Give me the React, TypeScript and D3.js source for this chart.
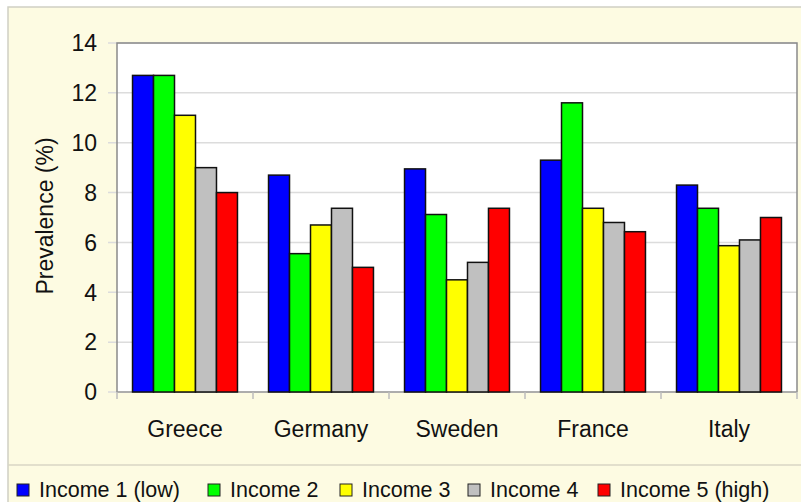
import * as d3 from 'd3';

const countries = ['Greece', 'Germany', 'Sweden', 'France', 'Italy'];
const seriesNames = ['Income 1 (low)', 'Income 2', 'Income 3', 'Income 4', 'Income 5 (high)'];
const income1 = [12.7, 8.7, 8.95, 9.3, 8.3];
const income2 = [12.7, 5.55, 7.12, 11.6, 7.37];
const income3 = [11.1, 6.7, 4.5, 7.37, 5.87];
const income4 = [9.0, 7.37, 5.2, 6.8, 6.1];
const income5 = [8.0, 5.0, 7.37, 6.43, 7.0];
const yTicks = [0, 2, 4, 6, 8, 10, 12, 14];
const colors = ['#0000ff', '#00ff00', '#ffff00', '#c0c0c0', '#ff0000'];

const FONT = "'Liberation Sans', Arial, sans-serif";
const W = 801;
const H = 502;
const plot = { left: 117, right: 797, top: 43, bottom: 392 };
// legend swatch x positions (layout only)
const legendX = [17, 208, 340, 468, 598];

export default function App() {
  const series = [income1, income2, income3, income4, income5];

  const x0 = d3.scaleBand<string>().domain(countries).range([plot.left, plot.right]);
  const x1 = d3
    .scaleBand<number>()
    .domain(d3.range(series.length))
    .range([0, x0.bandwidth()])
    .paddingOuter(0.74)
    .paddingInner(0);
  const y = d3.scaleLinear().domain([0, 14]).range([plot.bottom, plot.top]);

  return (
    <svg width={W} height={H} style={{ position: 'absolute', left: 0, top: 0 }}>
      <rect x={0} y={0} width={W} height={H} fill='#ffffff' />
      <rect x={8} y={7} width={W} height={H} fill='#fdfbe2' stroke='#cfcfc4' strokeWidth={1.5} />
      <line x1={8} x2={W} y1={465} y2={465} stroke='#d8d6c4' strokeWidth={1.5} />

      <rect
        x={plot.left}
        y={plot.top}
        width={plot.right - plot.left}
        height={plot.bottom - plot.top}
        fill='#ffffff'
      />
      {yTicks.map((t) => (
        <g key={t}>
          <line x1={108} x2={plot.right} y1={y(t)} y2={y(t)} stroke='#dcdcdc' strokeWidth={1.5} />
          <text
            x={97}
            y={y(t)}
            dy='0.36em'
            textAnchor='end'
            fontFamily={FONT}
            fontSize={23}
            fill='#111'>
            {t}
          </text>
        </g>
      ))}
      <path
        d={`M${plot.left},${plot.bottom}V${plot.top}H${plot.right}V${plot.bottom}`}
        fill='none'
        stroke='#8a8a8a'
        strokeWidth={1.5}
      />
      <line x1={plot.left} x2={plot.right} y1={plot.bottom} y2={plot.bottom} stroke='#9a9a9a' strokeWidth={1.5} />
      {countries.map((c) => (
        <line
          key={c}
          x1={x0(c)}
          x2={x0(c)}
          y1={plot.bottom}
          y2={plot.bottom + 7}
          stroke='#bdbdbd'
          strokeWidth={1.5}
        />
      ))}
      <line x1={plot.right} x2={plot.right} y1={plot.bottom} y2={plot.bottom + 7} stroke='#bdbdbd' strokeWidth={1.5} />

      {countries.map((c, ci) => (
        <g key={c} transform={`translate(${x0(c)},0)`}>
          {series.map((s, si) => (
            <rect
              key={si}
              x={x1(si)}
              y={y(s[ci])}
              width={x1.bandwidth()}
              height={y(0) - y(s[ci])}
              fill={colors[si]}
              stroke='#111'
              strokeWidth={1.5}
            />
          ))}
          <text
            x={x0.bandwidth() / 2}
            y={437}
            textAnchor='middle'
            fontFamily={FONT}
            fontSize={23}
            fill='#111'>
            {c}
          </text>
        </g>
      ))}

      <text
        transform='translate(53,216) rotate(-90)'
        textAnchor='middle'
        fontFamily={FONT}
        fontSize={23}
        fill='#111'>
        Prevalence (%)
      </text>

      {seriesNames.map((name, i) => (
        <g key={name}>
          <rect x={legendX[i]} y={484} width={12} height={12} fill={colors[i]} stroke='#222' strokeWidth={1} />
          <text x={legendX[i] + 22} y={497} fontFamily={FONT} fontSize={21.5} fill='#111'>
            {name}
          </text>
        </g>
      ))}
    </svg>
  );
}
